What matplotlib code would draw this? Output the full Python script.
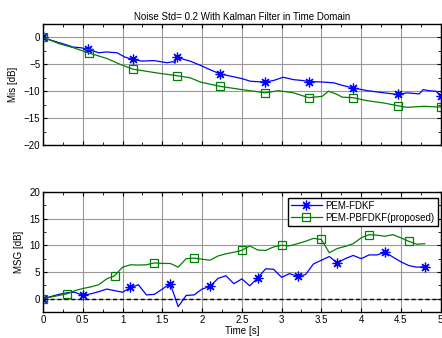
#!/usr/bin/env python3
import matplotlib
matplotlib.use('Agg')
import matplotlib.pyplot as plt
import matplotlib.ticker as ticker

plt.rcParams['font.family'] = ['Liberation Sans', 'DejaVu Sans']
fs = 7

# --- Mis [dB] (top panel) ---
t_mis_fdkf = [0.0, 0.1, 0.21, 0.3, 0.38, 0.47, 0.57, 0.7, 0.8, 0.93, 1.03, 1.13,
              1.24, 1.39, 1.56, 1.64, 1.66, 1.67, 1.68, 1.73, 1.85, 1.98, 2.1,
              2.23, 2.36, 2.5, 2.61, 2.79, 2.9, 3.02, 3.15, 3.26, 3.34, 3.45,
              3.53, 3.66, 3.76, 3.9, 4.08, 4.29, 4.46, 4.58, 4.73, 4.78, 4.85,
              4.94, 5.0]
mis_fdkf = [0.0, -0.5, -1.0, -1.4, -1.8, -1.9, -2.2, -2.85, -2.7, -2.85, -3.65,
            -4.1, -4.4, -4.3, -4.7, -4.5, -4.8, -3.6, -3.7, -3.9, -4.4, -5.2,
            -6.0, -6.8, -7.2, -7.65, -8.15, -8.3, -8.0, -7.4, -7.85, -8.0, -8.2,
            -8.25, -8.3, -8.45, -8.9, -9.4, -9.9, -10.3, -10.6, -10.3, -10.5,
            -9.7, -9.9, -10.0, -10.8]
mark_mis_fdkf = [0, 6, 11, 18, 23, 27, 32, 37, 40, 46]

t_mis_pb = [0.0, 0.21, 0.38, 0.58, 0.8, 0.97, 1.13, 1.24, 1.43, 1.68, 1.85,
            1.98, 2.23, 2.5, 2.65, 2.79, 2.96, 3.15, 3.34, 3.51, 3.59, 3.7,
            3.76, 3.9, 4.07, 4.29, 4.46, 4.58, 4.79, 5.0]
mis_pb = [0.0, -1.2, -1.9, -2.9, -3.9, -5.0, -5.9, -6.15, -6.6, -7.1, -7.5,
          -8.3, -9.1, -9.7, -10.0, -10.3, -9.9, -10.3, -11.2, -10.95, -10.0,
          -10.6, -11.1, -11.2, -11.75, -12.2, -12.7, -13.0, -12.8, -12.95]
mark_mis_pb = [0, 3, 6, 9, 12, 15, 18, 23, 26, 29]

# --- MSG [dB] (bottom panel), sampled every 0.1 s ---
t_msg = [round(0.1 * i, 1) for i in range(49)]
msg_fdkf = [0, 0.4, 0.8, 1.1, 1.2, 0.6, 0.9, 1.3, 1.8, 1.5, 1.2, 2.1, 2.6, 0.7,
            0.8, 1.8, 2.8, -1.5, 0.6, 0.7, 1.8, 2.3, 3.8, 4.3, 2.8, 3.7, 2.4,
            3.9, 5.6, 5.5, 4.0, 4.7, 4.2, 4.5, 6.5, 7.2, 7.9, 6.7, 7.5, 8.1,
            7.5, 8.2, 8.2, 8.7, 7.8, 6.9, 6.2, 5.9, 6.0]
msg_pb = [0, 0.3, 0.6, 0.9, 1.5, 1.9, 2.2, 2.6, 3.7, 4.3, 5.9, 6.35, 6.3, 6.35,
          6.7, 6.6, 6.6, 5.9, 7.5, 7.6, 7.4, 7.2, 8.0, 8.4, 8.7, 9.05, 9.9,
          9.1, 9.05, 9.7, 10.0, 9.9, 10.3, 10.75, 11.3, 11.1, 8.6, 9.4, 9.8,
          10.3, 11.4, 12.0, 11.9, 11.7, 12.0, 11.4, 10.75, 10.2, 10.3]
mark_msg_fdkf = [0, 5, 11, 16, 21, 27, 32, 37, 43, 48]
mark_msg_pb = [0, 3, 9, 14, 19, 25, 30, 35, 41, 46]

labels = ['PEM-FDKF', 'PEM-PBFDKF(proposed)']
blue = (0, 0, 1)
green = (0, 0.5, 0)
asterisk = (8, 2, 0)  # matlab-style '*'

fig = plt.figure(figsize=(4.42, 3.38), dpi=100)
ax1 = fig.add_axes([0.0973, 0.571, 0.8997, 0.358])
ax2 = fig.add_axes([0.0973, 0.077, 0.8997, 0.355])

ax1.plot(t_mis_fdkf, mis_fdkf, color=blue, lw=0.9, marker=asterisk, markersize=7,
         markevery=mark_mis_fdkf, markeredgewidth=0.9)
ax1.plot(t_mis_pb, mis_pb, color=green, lw=0.9, marker='s', markersize=6,
         markevery=mark_mis_pb, markerfacecolor='none', markeredgewidth=0.9)

ax2.plot(t_msg, msg_fdkf, color=blue, lw=0.9, marker=asterisk, markersize=7,
         markevery=mark_msg_fdkf, markeredgewidth=0.9, label=labels[0])
ax2.plot(t_msg, msg_pb, color=green, lw=0.9, marker='s', markersize=6,
         markevery=mark_msg_pb, markerfacecolor='none', markeredgewidth=0.9,
         label=labels[1])
ax2.axhline(0, color='k', ls='--', lw=1.0, dashes=(3, 2))

ax1.set_ylim(-20, 2.5)
ax2.set_ylim(-2.5, 20)
for ax in (ax1, ax2):
    ax.set_xlim(0, 5)
    ax.xaxis.set_major_locator(ticker.MultipleLocator(0.5))
    ax.xaxis.set_minor_locator(ticker.MultipleLocator(0.25))
    ax.yaxis.set_major_locator(ticker.MultipleLocator(5))
    ax.yaxis.set_minor_locator(ticker.MultipleLocator(2.5))
    ax.tick_params(which='both', direction='in', top=True, right=True,
                   labelsize=fs, pad=2)
    ax.tick_params(which='major', length=3)
    ax.tick_params(which='minor', length=2)
    ax.grid(True, which='major', color='0.6', lw=0.8)
    ax.set_axisbelow(True)
    for s in ax.spines.values():
        s.set_linewidth(1.0)

ax1.set_yticks([-20, -15, -10, -5, 0])
ax2.set_yticks([0, 5, 10, 15, 20])
ax1.tick_params(labelbottom=False)
ax2.set_xticks([0, 0.5, 1, 1.5, 2, 2.5, 3, 3.5, 4, 4.5, 5])
ax2.set_xticklabels(['0', '0.5', '1', '1.5', '2', '2.5', '3', '3.5', '4', '4.5', '5'])

ax1.set_title('Noise Std= 0.2 With Kalman Filter in Time Domain', fontsize=fs, pad=3)
ax1.set_ylabel('Mis [dB]', fontsize=fs, labelpad=4)
ax2.set_ylabel('MSG [dB]', fontsize=fs, labelpad=4)
ax2.set_xlabel('Time [s]', fontsize=fs, labelpad=1)

leg = ax2.legend(loc='upper right', bbox_to_anchor=(1.0, 0.975), fontsize=fs,
                 fancybox=False, framealpha=1, edgecolor='k', borderpad=0.3,
                 labelspacing=0.2, handlelength=3.2, handletextpad=0.4,
                 borderaxespad=0.3)
leg.get_frame().set_linewidth(1.0)

fig.savefig('out.png', dpi=100)
